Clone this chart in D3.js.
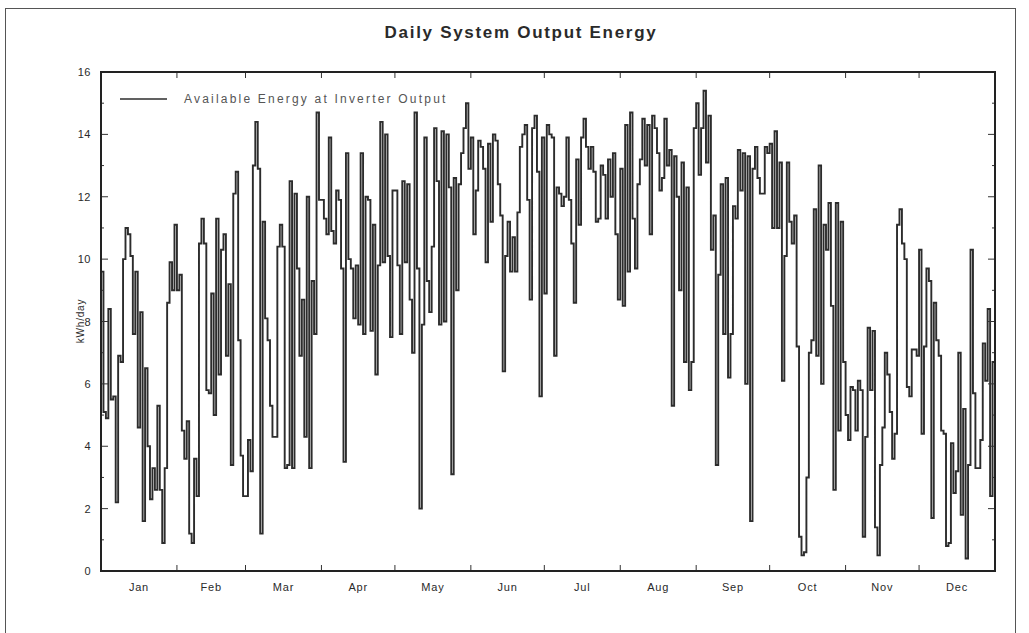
<!DOCTYPE html>
<html>
<head>
<meta charset="utf-8">
<script src="https://cdn.jsdelivr.net/npm/d3@7"></script>
<style>
  body { margin: 0; background: #fff; }
  #viz_energy { width: 1029px; height: 633px; }
  .fonts { font-family: "Liberation Sans", Arial, sans-serif; fill: #2a2a2a; }
</style>
</head>
<body>
<div id="viz_energy"></div>
<script>
// daily kWh, one array per month
var jan=[9.6,5.1,4.9,8.4,5.5,5.6,2.2,6.9,6.7,10.0,11.0,10.8,10.1,7.6,9.6,4.6,8.3,1.6,6.5,4.0,2.3,3.3,2.6,5.3,2.6,0.9,3.3,8.6,9.9,9.0,11.1];
var feb=[9.0,9.5,4.5,3.6,4.8,1.2,0.9,3.6,2.4,10.5,11.3,10.5,5.8,5.7,8.9,5.0,11.3,6.3,10.3,10.8,6.9,9.2,3.4,12.1,12.8,7.4,3.7,2.4];
var mar=[2.4,4.2,3.2,13.0,14.4,12.9,1.2,11.2,8.1,7.4,5.3,4.3,4.3,10.4,11.1,10.4,3.3,3.4,12.5,3.3,12.1,9.7,6.9,8.7,4.3,12.0,3.3,9.3,7.6,14.7,11.9];
var apr=[11.9,11.3,10.8,13.9,10.9,10.5,12.2,11.9,9.7,3.5,13.4,10.0,9.7,8.1,9.8,7.9,13.4,7.6,12.0,11.9,7.7,11.1,6.3,9.8,14.4,9.9,14.0,10.1,7.5,12.2];
var may=[12.2,9.8,7.6,12.5,9.9,12.4,8.7,7.0,14.7,9.7,2.0,7.9,13.9,9.3,8.3,10.4,14.2,12.5,7.9,14.1,8.0,14.0,12.3,3.1,12.6,9.0,12.4,13.4,14.2,15.0,12.9];
var jun=[13.9,10.8,12.2,13.8,13.6,12.9,9.9,13.7,11.2,14.0,13.8,12.4,11.4,6.4,10.1,11.2,9.6,10.7,9.6,11.5,13.6,14.0,14.3,11.9,8.7,14.2,14.6,12.8,5.6,13.9];
var jul=[8.9,14.3,14.0,13.9,6.9,12.3,12.1,11.7,12.0,13.9,11.9,10.5,8.6,13.2,11.1,13.9,14.5,13.6,12.9,13.6,12.8,11.2,11.3,13.0,12.7,11.3,13.2,12.0,13.4,10.8,8.7];
var aug=[12.9,8.5,14.3,9.6,14.7,11.3,9.7,12.4,13.2,14.5,13.0,14.3,10.8,14.6,14.2,13.4,12.2,12.6,14.5,13.0,13.5,5.3,13.3,12.0,9.0,13.1,6.7,12.3,5.8,6.7,14.2];
var sep=[15.0,12.7,14.2,15.4,13.1,14.6,10.3,11.4,3.4,9.5,12.4,7.6,12.6,6.2,7.6,11.7,11.3,13.5,12.2,13.4,6.0,13.3,1.6,12.9,13.6,12.6,12.1,12.1,13.6,13.4];
var oct=[13.7,11.0,14.1,11.0,13.1,6.1,10.1,13.1,11.2,10.5,11.4,7.2,1.1,0.5,0.6,3.0,7.0,7.4,11.6,6.9,13.0,6.0,11.1,10.3,11.8,8.5,2.6,11.8,4.5,11.2,6.7];
var nov=[5.0,4.2,5.9,5.8,4.5,6.1,5.8,1.1,4.3,7.8,5.8,7.7,1.4,0.5,3.4,4.6,7.0,6.3,5.1,3.6,4.4,11.1,11.6,10.5,10.0,5.9,5.6,7.1,7.1,6.9];
var dec=[10.3,4.4,7.2,9.7,9.3,1.7,8.6,7.4,6.9,4.5,4.4,0.8,0.9,4.1,2.5,3.2,7.0,1.8,5.2,0.4,3.4,10.3,5.7,3.3,3.3,4.2,7.3,6.1,8.4,2.4,6.7];

var months=["Jan","Feb","Mar","Apr","May","Jun","Jul","Aug","Sep","Oct","Nov","Dec"];
var yTicks=[0,2,4,6,8,10,12,14,16];
var titleText="Daily System Output Energy";
var legendText="Available Energy at Inverter Output";
var yLabel="kWh/day";

var monthData=[jan,feb,mar,apr,may,jun,jul,aug,sep,oct,nov,dec];
var daily=[].concat.apply([],monthData);
// month start days, built from the month lengths
var monthStart=[];
var acc=0;
for(var i=0;i<monthData.length;i++){ monthStart.push(acc); acc+=monthData[i].length; }
var nDays=acc;

var width=1029, height=633;
var plot={left:101,right:995,top:72,bottom:571};

var svg=d3.select("#viz_energy").append("svg")
  .attr("width",width).attr("height",height);

// outer frame
svg.append("rect")
  .attr("x",5.5).attr("y",8.5)
  .attr("width",1010).attr("height",640)
  .attr("fill","none").attr("stroke","#555").attr("stroke-width",1);

var xScale=d3.scaleLinear().domain([0,nDays]).range([plot.left,plot.right]);
var yScale=d3.scaleLinear().domain([0,16]).range([plot.bottom,plot.top]);

// title
svg.append("text")
  .attr("x",521).attr("y",38)
  .attr("class","fonts")
  .style("font-size","17px").style("font-weight","bold")
  .style("letter-spacing","1.7px")
  .style("text-anchor","middle")
  .text(titleText);

// y label
svg.append("text")
  .attr("transform","translate(84,321) rotate(-90)")
  .attr("class","fonts")
  .style("font-size","10px").style("letter-spacing","0.8px")
  .style("text-anchor","middle")
  .text(yLabel);

// step line
var pts=daily.map(function(d,i){ return [i,d]; });
pts.push([nDays,daily[nDays-1]]);
var line=d3.line()
  .x(function(d){ return xScale(d[0]); })
  .y(function(d){ return yScale(d[1]); })
  .curve(d3.curveStepAfter);

svg.append("path")
  .datum(pts)
  .attr("d",line)
  .attr("fill","none")
  .attr("stroke","#2c2c2c")
  .attr("stroke-width",1.9)
  .attr("stroke-linejoin","miter");

// y ticks left + right, inside, minor every 1
var minorY=d3.range(0,17,1);
minorY.forEach(function(v){
  var len=(v%2==0)?7:3;
  svg.append("line").attr("x1",plot.left).attr("x2",plot.left+len)
    .attr("y1",yScale(v)).attr("y2",yScale(v))
    .attr("stroke","#333").attr("stroke-width",1);
  svg.append("line").attr("x1",plot.right).attr("x2",plot.right-len)
    .attr("y1",yScale(v)).attr("y2",yScale(v))
    .attr("stroke","#333").attr("stroke-width",1);
});
svg.append("g")
  .attr("transform","translate("+(plot.left-7)+",0)")
  .call(d3.axisLeft(yScale).tickValues(yTicks).tickSize(0).tickFormat(d3.format("d")))
  .call(function(g){ g.select(".domain").remove(); })
  .selectAll("text")
  .attr("class","fonts")
  .style("font-size","11px").style("letter-spacing","0.5px")
  .attr("fill","#2a2a2a");

// month boundary ticks on top and bottom
monthStart.slice(1).forEach(function(d){
  svg.append("line").attr("x1",xScale(d)).attr("x2",xScale(d))
    .attr("y1",plot.bottom).attr("y2",plot.bottom-6)
    .attr("stroke","#333").attr("stroke-width",1);
  svg.append("line").attr("x1",xScale(d)).attr("x2",xScale(d))
    .attr("y1",plot.top).attr("y2",plot.top+6)
    .attr("stroke","#333").attr("stroke-width",1);
});

// month labels centred in each month
months.forEach(function(m,i){
  svg.append("text")
    .attr("x",xScale(monthStart[i]+monthData[i].length/2))
    .attr("y",591)
    .attr("class","fonts")
    .style("font-size","11px").style("letter-spacing","0.8px")
    .style("text-anchor","middle")
    .text(m);
});

// plot frame
svg.append("rect")
  .attr("x",plot.left).attr("y",plot.top)
  .attr("width",plot.right-plot.left).attr("height",plot.bottom-plot.top)
  .attr("fill","none").attr("stroke","#222").attr("stroke-width",2);

// legend
svg.append("line")
  .attr("x1",120).attr("x2",167).attr("y1",99).attr("y2",99)
  .attr("stroke","#2c2c2c").attr("stroke-width",1.5);
svg.append("text")
  .attr("x",184).attr("y",103)
  .attr("class","fonts")
  .style("font-size","12px").style("letter-spacing","2.2px")
  .style("fill","#555")
  .text(legendText);
</script>
</body>
</html>
